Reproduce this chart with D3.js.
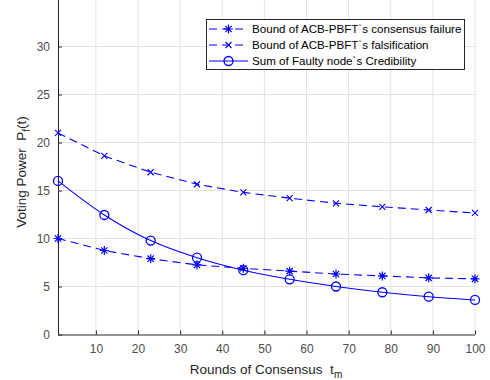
<!DOCTYPE html>
<html>
<head>
<meta charset="utf-8">
<script src="https://cdn.jsdelivr.net/npm/d3@7"></script>
<style>
  body { margin: 0; background: #fff; }
  svg { display: block; font-family: "Liberation Sans", Arial, sans-serif; }
</style>
</head>
<body>
<svg width="490" height="380"></svg>
<script>
// data
const rounds = [1, 12, 23, 34, 45, 56, 67, 78, 89, 100]
const failureBound = [10, 8.75, 7.9, 7.25, 6.9, 6.6, 6.3, 6.1, 5.9, 5.8]
const falsifyBound = [21, 18.6, 16.9, 15.65, 14.8, 14.2, 13.67, 13.3, 12.97, 12.66]
const credibility = [16, 12.45, 9.78, 8.0, 6.7, 5.75, 5.0, 4.4, 3.94, 3.6]
const xTicks = [10, 20, 30, 40, 50, 60, 70, 80, 90, 100]
const yTicks = [0, 5, 10, 15, 20, 25, 30]
const legendNames = ["Bound of ACB-PBFT`s consensus failure", "Bound of ACB-PBFT`s falsification", "Sum of Faulty node`s Credibility"]

const svg = d3.select('svg')
const plotL = 58, plotR = 475, plotT = -1.5, plotB = 334.5
const x = d3.scaleLinear().domain([1, 100]).range([plotL, plotR])
const y = d3.scaleLinear().domain([0, 35]).range([plotB, plotT])
const blue = '#0000ff'

// grid
svg.append('g').selectAll('line').data(xTicks).enter().append('line')
    .attr('x1', d => x(d)).attr('x2', d => x(d))
    .attr('y1', plotB).attr('y2', 0)
    .attr('stroke', '#e3e3e3').attr('stroke-width', 1)
svg.append('g').selectAll('line').data(yTicks.slice(1)).enter().append('line')
    .attr('x1', plotL).attr('x2', plotR)
    .attr('y1', d => y(d)).attr('y2', d => y(d))
    .attr('stroke', '#e3e3e3').attr('stroke-width', 1)

// axes (matlab style, ticks pointing in)
const xAxis = svg.append('g').attr('transform', `translate(0,${plotB})`)
    .call(d3.axisBottom(x).tickValues(xTicks).tickSizeInner(-4).tickSizeOuter(0).tickPadding(10))
const yAxis = svg.append('g').attr('transform', `translate(${plotL},0)`)
    .call(d3.axisLeft(y).tickValues(yTicks).tickSizeInner(-4).tickSizeOuter(0).tickPadding(8))
;[xAxis, yAxis].forEach(a => {
    a.select('.domain').attr('stroke', '#262626')
    a.selectAll('.tick line').attr('stroke', '#262626')
    a.selectAll('.tick text').attr('fill', '#4d4d4d').attr('font-size', 12)
        .attr('font-family', '"Liberation Sans", Arial, sans-serif')
})
xAxis.select('.domain').attr('d', `M${plotL},0.5H${plotR}`)
yAxis.select('.domain').attr('d', `M0.5,${plotB}V0`)

// axis labels
const xl = svg.append('text').attr('x', 266).attr('y', 374).attr('text-anchor', 'middle')
    .attr('font-size', 13.5).attr('fill', '#262626')
xl.append('tspan').text('Rounds of Consensus\u00a0\u00a0t')
xl.append('tspan').attr('font-size', 10).attr('dy', 4).text('m')

const yl = svg.append('text').attr('transform', 'translate(26,172) rotate(-90)').attr('text-anchor', 'middle')
    .attr('font-size', 13.5).attr('fill', '#262626')
yl.append('tspan').text('Voting Power\u00a0\u00a0P')
yl.append('tspan').attr('font-size', 10).attr('dy', 4).text('f')
yl.append('tspan').attr('dy', -4).text('(t)')

// marker painters
function star(g, s) {
    const r = s
    g.append('path').attr('d', `M${-r},0H${r}M0,${-r}V${r}M${-r * 0.7},${-r * 0.7}L${r * 0.7},${r * 0.7}M${-r * 0.7},${r * 0.7}L${r * 0.7},${-r * 0.7}`)
        .attr('stroke', blue).attr('stroke-width', 1.2).attr('fill', 'none')
}
function cross(g, s) {
    g.append('path').attr('d', `M${-s},${-s}L${s},${s}M${-s},${s}L${s},${-s}`)
        .attr('stroke', blue).attr('stroke-width', 1.1).attr('fill', 'none')
}
function ring(g, s) {
    g.append('circle').attr('r', s).attr('stroke', blue).attr('stroke-width', 1.3).attr('fill', 'none')
}

const series = [
    { vals: failureBound, dash: '8,5', mark: star, size: 4.5, curve: d3.curveLinear },
    { vals: falsifyBound, dash: '8,5', mark: cross, size: 3, curve: d3.curveLinear },
    { vals: credibility, dash: null, mark: ring, size: 4.5, curve: d3.curveMonotoneX }
]

series.forEach(s => {
    const line = d3.line().x((d, i) => x(rounds[i])).y(d => y(d)).curve(s.curve)
    svg.append('path').datum(s.vals).attr('d', line)
        .attr('fill', 'none').attr('stroke', blue).attr('stroke-width', 1.1)
        .attr('stroke-dasharray', s.dash)
    svg.append('g').selectAll('g').data(s.vals).enter().append('g')
        .attr('transform', (d, i) => `translate(${x(rounds[i])},${y(d)})`)
        .each(function () { s.mark(d3.select(this), s.size) })
})

// legend
const lg = svg.append('g')
lg.append('rect').attr('x', 206.5).attr('y', 19.5).attr('width', 258).attr('height', 50)
    .attr('fill', '#fff').attr('stroke', '#262626').attr('stroke-width', 1)
series.forEach((s, i) => {
    const yy = 29 + i * 16
    lg.append('line').attr('x1', 209).attr('x2', 248).attr('y1', yy).attr('y2', yy)
        .attr('stroke', blue).attr('stroke-width', 1.1).attr('stroke-dasharray', s.dash ? '8,5' : null)
    const m = lg.append('g').attr('transform', `translate(228.5,${yy})`)
    s.mark(m, s.size)
    lg.append('text').attr('x', 252).attr('y', yy + 4).attr('font-size', 11.6)
        .attr('fill', '#000').text(legendNames[i])
})
</script>
</body>
</html>
